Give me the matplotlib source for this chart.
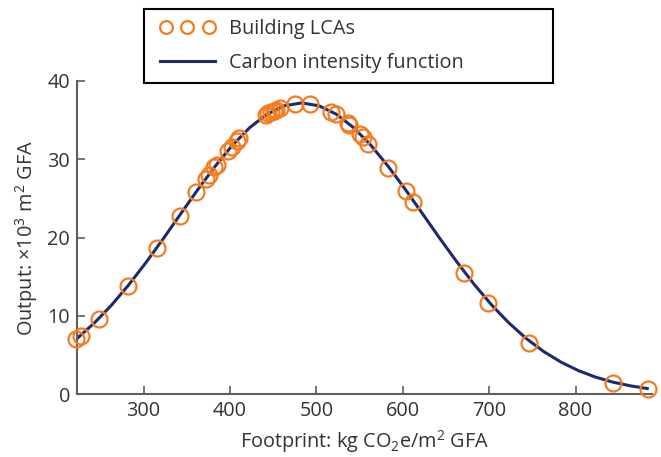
import matplotlib
matplotlib.use("Agg")
import matplotlib.pyplot as plt
from matplotlib.legend_handler import HandlerLine2D

plt.rcParams['font.family'] = ['Open Sans', 'DejaVu Sans']
plt.rcParams['mathtext.fontset'] = 'custom'
plt.rcParams['mathtext.rm'] = 'Open Sans'

# building LCA points (footprint, output)
lca_x = [221.9, 227.3, 248.8, 282.4, 316.0, 342.0, 360.8, 372.0, 376.2, 381.6,
         385.5, 398.1, 402.0, 407.9, 410.2, 441.8, 444.5, 447.5, 450.5, 453.5,
         458.0, 475.7, 492.7, 516.7, 522.8, 537.0, 538.0, 550.6, 554.5, 560.2,
         583.3, 603.5, 612.3, 671.0, 698.4, 746.5, 843.0, 884.3]
lca_y = [7.0, 7.4, 9.6, 13.8, 18.7, 22.8, 25.8, 27.5, 28.0, 29.0,
         29.3, 31.1, 31.6, 32.4, 32.7, 35.7, 35.9, 36.0, 36.2, 36.3,
         36.6, 37.1, 37.1, 36.1, 35.8, 34.6, 34.4, 33.2, 32.8, 31.9,
         28.9, 26.0, 24.5, 15.5, 11.7, 6.6, 1.5, 0.7]

# carbon intensity function
curve_x = [223, 243, 263, 283, 303, 323, 343, 363, 383, 403, 423, 443, 463, 483,
           503, 523, 543, 563, 583, 603, 623, 643, 663, 683, 703, 723, 743, 763,
           783, 803, 823, 843, 863, 883]
curve_y = [7.12, 9.10, 11.39, 13.99, 16.85, 19.89, 23.04, 26.16, 29.13, 31.81,
           34.06, 35.77, 36.84, 37.2, 36.84, 35.77, 34.06, 31.81, 29.13, 26.16,
           23.04, 19.89, 16.85, 13.99, 11.39, 9.10, 7.12, 5.47, 4.12, 3.04,
           2.20, 1.56, 1.09, 0.74]

xticks = [300, 400, 500, 600, 700, 800]
yticks = [0, 10, 20, 30, 40]

orange = '#f47b20'
navy = '#1f2a6b'
text_col = '#333333'
spine_col = '#5e5e5e'
fs = 14.3

fig = plt.figure(figsize=(6.61, 4.57), dpi=100)
ax = fig.add_axes([77/661, 1 - 394.3/457, (652 - 77)/661, (394.3 - 81)/457])

line, = ax.plot(curve_x, curve_y, color=navy, lw=2.2, zorder=2,
                label='Carbon intensity function')
pts, = ax.plot(lca_x, lca_y, ls='none', marker='o', ms=11.5, mfc='none',
               mec=orange, mew=1.6, zorder=3, clip_on=False, label='Building LCAs')

ax.set_xlim(223, 888.5)
ax.set_ylim(0, 40)
ax.set_xticks(xticks)
ax.set_yticks(yticks)

for s in ['top', 'right']:
    ax.spines[s].set_visible(False)
for s in ['left', 'bottom']:
    ax.spines[s].set_color(spine_col)
    ax.spines[s].set_linewidth(1.5)

ax.tick_params(direction='in', length=6, width=1.2, color=spine_col,
               labelsize=fs, labelcolor=text_col, pad=5)

ax.set_xlabel('Footprint: kg CO$_\\mathregular{2}$e/m$^\\mathregular{2}$ GFA',
              fontsize=fs, color=text_col, labelpad=5)
ax.set_ylabel('Output: \u00d710$^\\mathregular{3}$ m$^\\mathregular{2}$ GFA',
              fontsize=fs, color=text_col, labelpad=5)

leg = fig.legend(handles=[pts, line], loc='upper left',
                 bbox_to_anchor=(144/661, 0.3, (553 - 144)/661, 1 - 9.5/457 - 0.3),
                 mode='expand', borderaxespad=0, numpoints=3, markerscale=0.8,
                 handler_map={pts: HandlerLine2D(marker_pad=0.6, numpoints=3)},
                 handlelength=3.35, handletextpad=0.42, labelspacing=0.68,
                 fontsize=fs, fancybox=False, framealpha=1, borderpad=0.5)
leg.get_frame().set_edgecolor('black')
leg.get_frame().set_linewidth(1.5)
for t in leg.get_texts():
    t.set_color(text_col)

fig.savefig('out.png', dpi=100)
